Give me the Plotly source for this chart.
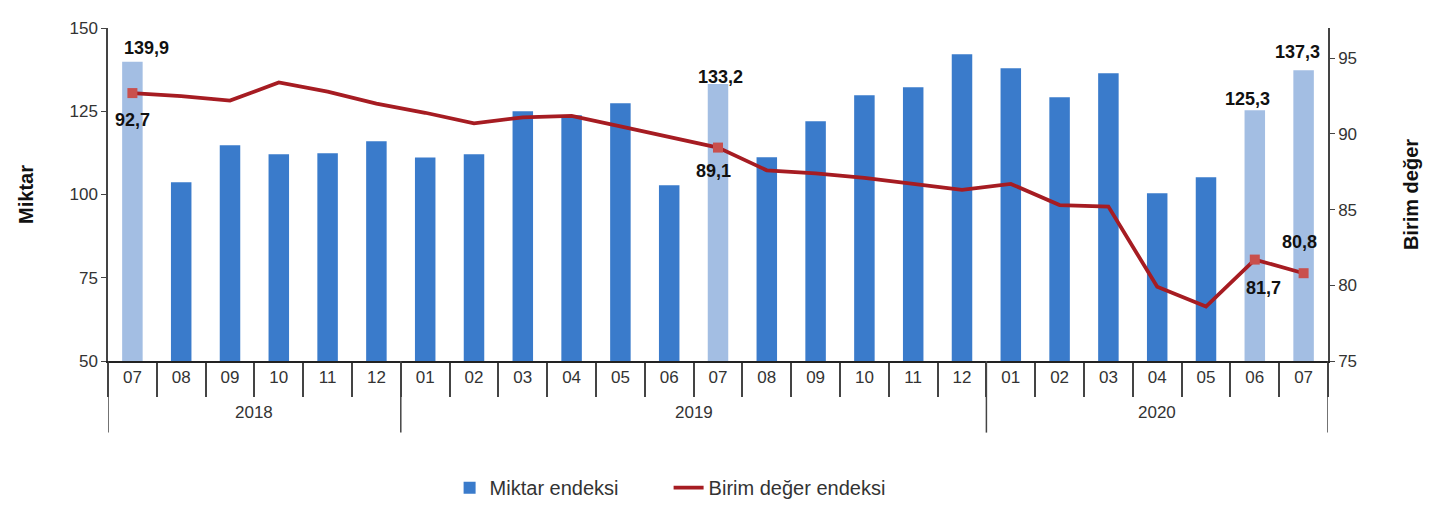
import plotly.graph_objects as go

years = ["2018"] * 6 + ["2019"] * 12 + ["2020"] * 7
months = ["07", "08", "09", "10", "11", "12",
          "01", "02", "03", "04", "05", "06", "07", "08", "09", "10", "11", "12",
          "01", "02", "03", "04", "05", "06", "07"]

miktar = [139.9, 103.7, 114.8, 112.1, 112.4, 116.0,
          111.1, 112.1, 125.0, 123.8, 127.4, 102.8, 133.2, 111.2, 122.0, 129.8, 132.2, 142.1,
          137.9, 129.2, 136.4, 100.4, 105.2, 125.3, 137.3]

birim = [92.7, 92.5, 92.2, 93.4, 92.8, 92.0,
         91.4, 90.7, 91.1, 91.2, 90.5, 89.8, 89.1, 87.6, 87.4, 87.1, 86.7, 86.3,
         86.7, 85.3, 85.2, 79.9, 78.6, 81.7, 80.8]

highlight = [0, 12, 23, 24]

# label offsets (pixels) for the highlighted values
bar_label_shift = [(14, 14), (2, 7), (-7, 11), (-6, 18)]
line_label_shift = [(0, -27), (-5, -23), (9, -28), (-4, 31)]

def fmt(v):
    return f"{v:.1f}".replace(".", ",")

dark_blue = "#3A7BCB"
light_blue = "#A3BEE3"
line_red = "#A61C22"
marker_red = "#C9504D"
text_col = "#333333"

keys = [f"{y}-{m}" for y, m in zip(years, months)]
normal_vals = [None if i in highlight else v for i, v in enumerate(miktar)]
high_vals = [v if i in highlight else None for i, v in enumerate(miktar)]

fig = go.Figure()

fig.add_trace(go.Bar(
    x=keys, y=normal_vals, name="Miktar endeksi",
    marker=dict(color=dark_blue, line=dict(width=0)),
    width=0.42,
))
fig.add_trace(go.Bar(
    x=keys, y=high_vals, name="Miktar endeksi", showlegend=False,
    marker=dict(color=light_blue, line=dict(width=0)),
    width=0.42,
))

fig.add_trace(go.Scatter(
    x=keys, y=birim, name="Birim değer endeksi",
    mode="lines", line=dict(color=line_red, width=3.8),
    yaxis="y2",
))

fig.add_trace(go.Scatter(
    x=[keys[i] for i in highlight],
    y=[birim[i] for i in highlight],
    mode="markers",
    marker=dict(symbol="square", size=10, color=marker_red),
    yaxis="y2", showlegend=False, cliponaxis=False,
))

label_font = dict(family="Liberation Sans", size=18, color="#111111", weight="bold")
annotations = []
for k, i in enumerate(highlight):
    dx, dy = bar_label_shift[k]
    annotations.append(dict(
        x=keys[i], y=miktar[i], xref="x", yref="y", text=fmt(miktar[i]),
        showarrow=False, xanchor="center", yanchor="middle",
        xshift=dx, yshift=dy, font=label_font,
    ))
    dx, dy = line_label_shift[k]
    annotations.append(dict(
        x=keys[i], y=birim[i], xref="x", yref="y2", text=fmt(birim[i]),
        showarrow=False, xanchor="center", yanchor="middle",
        xshift=dx, yshift=dy, font=label_font,
    ))

# year group labels and dividers
groups = []
start = 0
for i in range(1, len(years) + 1):
    if i == len(years) or years[i] != years[start]:
        groups.append((years[start], start, i - 1))
        start = i

shapes = []
for name, s, e in groups:
    annotations.append(dict(
        x=(s + e) / 2, y=-0.156, xref="x", yref="paper", text=name,
        showarrow=False, xanchor="center", yanchor="middle",
        font=dict(family="Liberation Sans", size=17, color=text_col),
    ))
bounds = sorted(set([g[1] - 0.5 for g in groups] + [g[2] + 0.5 for g in groups]))
for b in bounds:
    shapes.append(dict(
        type="line", xref="x", yref="paper", x0=b, x1=b, y0=0, y1=-0.215,
        line=dict(color="#444444", width=1.5),
    ))

axis_font = dict(family="Liberation Sans", size=17, color=text_col)

fig.update_layout(
    width=1445, height=508,
    margin=dict(l=108, r=117, t=28, b=147, autoexpand=False),
    paper_bgcolor="white", plot_bgcolor="white",
    font=dict(family="Liberation Sans", color=text_col),
    annotations=annotations, shapes=shapes,
    barmode="overlay",
    xaxis=dict(
        type="category", range=[-0.5, len(keys) - 0.5],
        tickvals=keys, ticktext=months,
        showline=True, linecolor="#222222", linewidth=1.5,
        ticks="outside", tickson="boundaries", ticklen=34, tickcolor="#444444", tickwidth=1.5,
        tickfont=axis_font, showgrid=False,
    ),
    yaxis=dict(
        range=[50, 150], tickvals=[50, 75, 100, 125, 150],
        showline=True, linecolor="#444444", linewidth=1.5,
        ticks="outside", ticklen=5, tickcolor="#444444",
        tickfont=axis_font, showgrid=False, zeroline=False,
        title=dict(text="<b>Miktar</b>", font=dict(family="Liberation Sans", size=20, color="#111111"), standoff=30),
    ),
    yaxis2=dict(
        range=[75, 97], tickvals=[75, 80, 85, 90, 95],
        overlaying="y", side="right",
        showline=True, linecolor="#444444", linewidth=1.5,
        ticks="outside", ticklen=5, tickcolor="#444444",
        tickfont=axis_font, showgrid=False, zeroline=False,
        title=dict(text="<b>Birim değer</b>", font=dict(family="Liberation Sans", size=20, color="#111111"), standoff=48),
    ),
    legend=dict(
        orientation="h", x=0.280, xanchor="left",
        yref="container", y=0.04, yanchor="middle",
        font=dict(family="Liberation Sans", size=20, color=text_col),
        entrywidth=174, entrywidthmode="pixels",
    ),
)

fig.write_html("out.html")
